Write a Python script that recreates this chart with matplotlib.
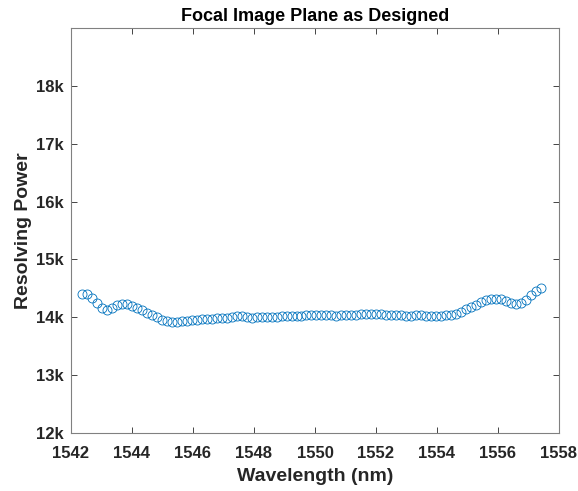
import numpy as np
import matplotlib
matplotlib.use("Agg")
import matplotlib.pyplot as plt
from matplotlib.ticker import FuncFormatter

plt.rcParams['font.family'] = ['Liberation Sans', 'DejaVu Sans']

wl_start, wl_end = 1542.36, 1557.41
resolving_power = [
    14410, 14410, 14330, 14240, 14160, 14125, 14165, 14215, 14238, 14230,
    14200, 14160, 14118, 14075, 14035, 13998, 13962, 13932, 13917, 13922,
    13935, 13945, 13955, 13962, 13968, 13972, 13978, 13982, 13990, 13995,
    14005, 14018, 14015, 14000, 13995, 13998, 14000, 14005, 14008, 14012,
    14015, 14018, 14022, 14025, 14030, 14035, 14040, 14048, 14045, 14038,
    14035, 14030, 14032, 14035, 14040, 14045, 14050, 14055, 14058, 14055,
    14050, 14045, 14040, 14035, 14032, 14030, 14030, 14032, 14033, 14030,
    14028, 14028, 14030, 14035, 14045, 14065, 14100, 14140, 14175, 14220,
    14265, 14295, 14310, 14322, 14315, 14285, 14250, 14225, 14240, 14300,
    14390, 14460, 14500,
]
wavelength = np.linspace(wl_start, wl_end, len(resolving_power))

x_ticks = [1542, 1544, 1546, 1548, 1550, 1552, 1554, 1556, 1558]
y_ticks = [12000, 13000, 14000, 15000, 16000, 17000, 18000]

fig = plt.figure(figsize=(5.78, 4.91), dpi=100)
ax = fig.add_axes([0.1228, 0.118, 0.8443, 0.825])

ax.plot(wavelength, resolving_power, linestyle='none', marker='o',
        markersize=6.5, markerfacecolor='none', markeredgecolor=(0, 0.447, 0.741),
        markeredgewidth=0.6)

ax.set_xlim(1542, 1558)
ax.set_ylim(12000, 19000)
ax.set_xticks(x_ticks)
ax.set_yticks(y_ticks)
ax.yaxis.set_major_formatter(FuncFormatter(lambda v, p: f"{int(round(v/1000))}k"))

axis_color = (0.15, 0.15, 0.15)
for s in ax.spines.values():
    s.set_color((0.5, 0.5, 0.5))
    s.set_linewidth(0.8)
ax.tick_params(direction='in', top=True, right=True, length=4, width=0.6,
               color=axis_color, labelsize=12)
ax.tick_params(axis='x', pad=9)
ax.tick_params(axis='y', pad=5)
for lbl in ax.get_xticklabels() + ax.get_yticklabels():
    lbl.set_fontweight('bold')
    lbl.set_color(axis_color)

ax.set_xlabel('Wavelength (nm)', fontsize=14, fontweight='bold', color=axis_color, labelpad=5)
ax.set_ylabel('Resolving Power', fontsize=14, fontweight='bold', color=axis_color, labelpad=3)
ax.set_title('Focal Image Plane as Designed', fontsize=13, fontweight='bold', pad=5)

fig.savefig('out.png', dpi=100)
